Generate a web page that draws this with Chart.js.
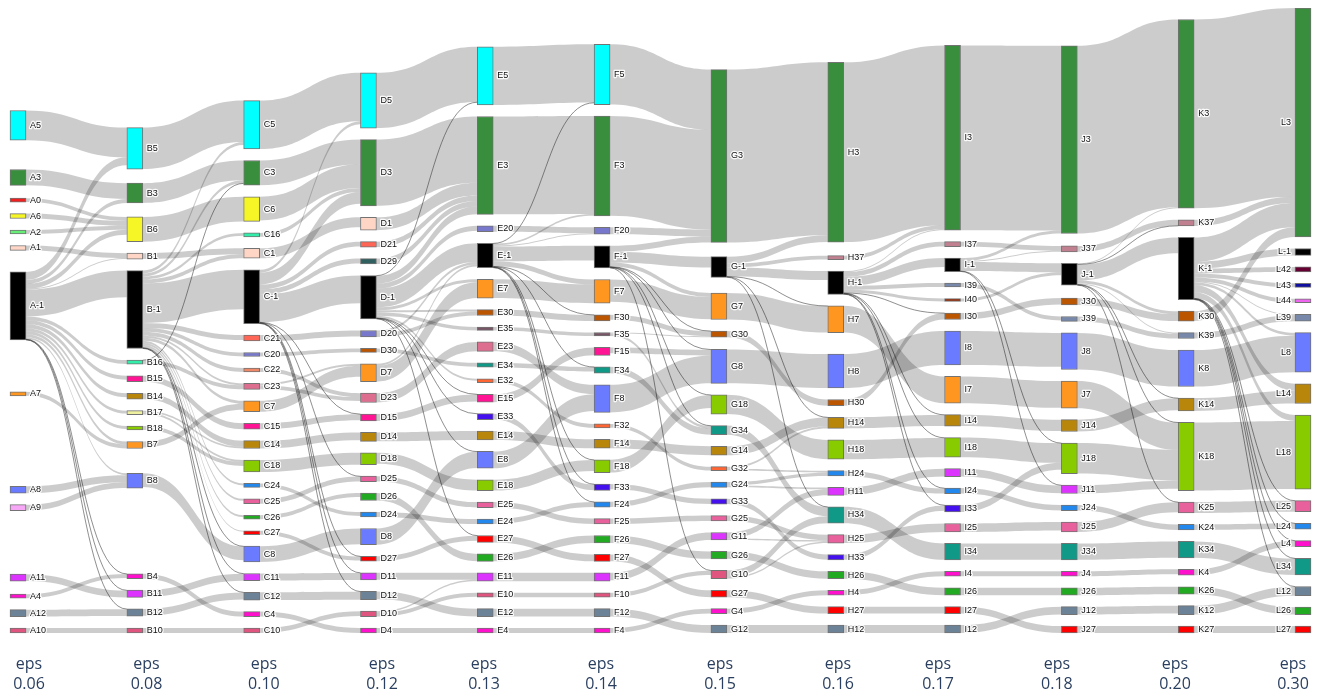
<!DOCTYPE html>
<html lang="en">
<head>
<meta charset="UTF-8">
<title>Cluster flow across eps</title>
<script src="https://cdn.jsdelivr.net/npm/chart.js"></script>
<style>
  html, body { margin: 0; padding: 0; background: #fff; overflow: hidden; }
  #wrap { position: relative; width: 1323px; height: 695px; }
</style>
</head>
<body>
<div id="wrap"><canvas id="sankeyChart"></canvas></div>
<script>
// ---- data ----
const epsValues = ['0.06', '0.08', '0.10', '0.12', '0.13', '0.14', '0.15', '0.16', '0.17', '0.18', '0.20', '0.30'];

const nodesA = ['A5', 'A3', 'A0', 'A6', 'A2', 'A1', 'A-1', 'A7', 'A8', 'A9', 'A11', 'A4', 'A12', 'A10'];
const nodesB = ['B5', 'B3', 'B6', 'B1', 'B-1', 'B16', 'B15', 'B14', 'B17', 'B18', 'B7', 'B8', 'B4', 'B11', 'B12', 'B10'];
const nodesC = ['C5', 'C3', 'C6', 'C16', 'C1', 'C-1', 'C21', 'C20', 'C22', 'C23', 'C7', 'C15', 'C14', 'C18', 'C24', 'C25', 'C26', 'C27', 'C8', 'C11', 'C12', 'C4', 'C10'];
const nodesD = ['D5', 'D3', 'D1', 'D21', 'D29', 'D-1', 'D20', 'D30', 'D7', 'D23', 'D15', 'D14', 'D18', 'D25', 'D26', 'D24', 'D8', 'D27', 'D11', 'D12', 'D10', 'D4'];
const nodesE = ['E5', 'E3', 'E20', 'E-1', 'E7', 'E30', 'E35', 'E23', 'E34', 'E32', 'E15', 'E33', 'E14', 'E8', 'E18', 'E25', 'E24', 'E27', 'E26', 'E11', 'E10', 'E12', 'E4'];
const nodesF = ['F5', 'F3', 'F20', 'F-1', 'F7', 'F30', 'F35', 'F15', 'F34', 'F8', 'F32', 'F14', 'F18', 'F33', 'F24', 'F25', 'F26', 'F27', 'F11', 'F10', 'F12', 'F4'];
const nodesG = ['G3', 'G-1', 'G7', 'G30', 'G8', 'G18', 'G34', 'G14', 'G32', 'G24', 'G33', 'G25', 'G11', 'G26', 'G10', 'G27', 'G4', 'G12'];
const nodesH = ['H3', 'H37', 'H-1', 'H7', 'H8', 'H30', 'H14', 'H18', 'H24', 'H11', 'H34', 'H25', 'H33', 'H26', 'H4', 'H27', 'H12'];
const nodesI = ['I3', 'I37', 'I-1', 'I39', 'I40', 'I30', 'I8', 'I7', 'I14', 'I18', 'I11', 'I24', 'I33', 'I25', 'I34', 'I4', 'I26', 'I27', 'I12'];
const nodesJ = ['J3', 'J37', 'J-1', 'J30', 'J39', 'J8', 'J7', 'J14', 'J18', 'J11', 'J24', 'J25', 'J34', 'J4', 'J26', 'J12', 'J27'];
const nodesK = ['K3', 'K37', 'K-1', 'K30', 'K39', 'K8', 'K14', 'K18', 'K25', 'K24', 'K34', 'K4', 'K26', 'K12', 'K27'];
const nodesL = ['L3', 'L-1', 'L42', 'L43', 'L44', 'L39', 'L8', 'L14', 'L18', 'L25', 'L24', 'L4', 'L34', 'L12', 'L26', 'L27'];

// [source, target, value]
const linksAB = [
  ['A5', 'B5', 30], ['A3', 'B3', 16], ['A0', 'B6', 4], ['A6', 'B6', 5], ['A2', 'B6', 4], ['A1', 'B1', 5],
  ['A-1', 'B5', 8], ['A-1', 'B3', 4], ['A-1', 'B6', 5], ['A-1', 'B1', 1], ['A-1', 'B-1', 27], ['A-1', 'B16', 4],
  ['A-1', 'B15', 4], ['A-1', 'B14', 4], ['A-1', 'B17', 3], ['A-1', 'B18', 3], ['A-1', 'B7', 3], ['A-1', 'B8', 2],
  ['A-1', 'B4', 0.3], ['A-1', 'B11', 0.3], ['A-1', 'B12', 0.3],
  ['A7', 'B7', 4], ['A8', 'B8', 7], ['A9', 'B8', 6], ['A11', 'B11', 7], ['A4', 'B4', 4], ['A12', 'B12', 7], ['A10', 'B10', 5]
];
const linksBC = [
  ['B5', 'C5', 42], ['B3', 'C3', 20], ['B6', 'C6', 25], ['B1', 'C1', 6],
  ['B-1', 'C5', 3], ['B-1', 'C3', 3], ['B-1', 'C16', 3], ['B-1', 'C1', 4], ['B-1', 'C-1', 40], ['B-1', 'C21', 5],
  ['B-1', 'C20', 4], ['B-1', 'C22', 4], ['B-1', 'C23', 2], ['B-1', 'C7', 3], ['B-1', 'C24', 2], ['B-1', 'C25', 2],
  ['B-1', 'C26', 2], ['B-1', 'C27', 1], ['B-1', 'C8', 0.3], ['B-1', 'C11', 0.3], ['B-1', 'C12', 0.3],
  ['B16', 'C23', 4], ['B16', 'C3', 0.3], ['B15', 'C15', 6], ['B14', 'C14', 6], ['B17', 'C14', 2], ['B17', 'C18', 2],
  ['B18', 'C18', 4], ['B7', 'C7', 6], ['B8', 'C8', 14], ['B4', 'C4', 5], ['B11', 'C11', 7], ['B12', 'C12', 7], ['B10', 'C10', 5]
];
const linksCD = [
  ['C5', 'D5', 49], ['C3', 'D3', 25], ['C6', 'D3', 24], ['C16', 'D3', 4], ['C1', 'D1', 10],
  ['C-1', 'D5', 3], ['C-1', 'D3', 12], ['C-1', 'D21', 5], ['C-1', 'D29', 5], ['C-1', 'D-1', 28],
  ['C-1', 'D15', 0.3], ['C-1', 'D25', 0.3], ['C-1', 'D27', 0.3], ['C-1', 'D11', 0.3], ['C-1', 'D12', 0.3],
  ['C21', 'D20', 6], ['C20', 'D30', 4], ['C22', 'D23', 4], ['C23', 'D23', 4], ['C23', 'D7', 2], ['C7', 'D7', 11],
  ['C15', 'D15', 6], ['C14', 'D14', 8], ['C18', 'D18', 12], ['C24', 'D24', 4], ['C25', 'D25', 5], ['C26', 'D26', 4],
  ['C27', 'D27', 4], ['C8', 'D8', 16], ['C11', 'D11', 7], ['C12', 'D12', 8], ['C4', 'D4', 5], ['C10', 'D10', 5]
];
const linksDE = [
  ['D5', 'E5', 56], ['D3', 'E3', 67], ['D1', 'E3', 13], ['D21', 'E3', 5.5], ['D29', 'E3', 5.5],
  ['D-1', 'E3', 8], ['D-1', 'E5', 0.3], ['D-1', 'E20', 5], ['D-1', 'E-1', 19], ['D-1', 'E7', 3], ['D-1', 'E30', 2],
  ['D-1', 'E35', 3.5], ['D-1', 'E32', 2], ['D-1', 'E33', 0.3], ['D-1', 'E15', 0.3], ['D-1', 'E8', 0.3], ['D-1', 'E27', 0.3],
  ['D20', 'E30', 4], ['D20', 'E-1', 2.5], ['D30', 'E34', 4], ['D7', 'E7', 16], ['D7', 'E-1', 2], ['D23', 'E23', 9.5],
  ['D15', 'E15', 7], ['D14', 'E14', 9], ['D18', 'E18', 11], ['D25', 'E25', 5.5], ['D26', 'E26', 7.5], ['D24', 'E24', 5],
  ['D8', 'E8', 16.5], ['D27', 'E27', 5], ['D11', 'E11', 7], ['D12', 'E12', 8], ['D10', 'E10', 4], ['D10', 'E11', 1.5], ['D4', 'E4', 5]
];
const linksEF = [
  ['E5', 'F5', 59], ['E3', 'F3', 99], ['E20', 'F20', 6],
  ['E-1', 'F-1', 15], ['E-1', 'F7', 5], ['E-1', 'F3', 2], ['E-1', 'F20', 1], ['E-1', 'F5', 0.3], ['E-1', 'F30', 0.3],
  ['E-1', 'F34', 0.3], ['E-1', 'F18', 0.3], ['E-1', 'F33', 0.3], ['E-1', 'F24', 0.3],
  ['E7', 'F7', 19], ['E30', 'F30', 6], ['E35', 'F35', 3.5], ['E23', 'F8', 9.5], ['E34', 'F34', 4.5], ['E32', 'F32', 4],
  ['E15', 'F15', 8], ['E33', 'F33', 6], ['E14', 'F14', 9], ['E8', 'F8', 17], ['E18', 'F18', 11], ['E25', 'F25', 5.5],
  ['E24', 'F24', 5], ['E27', 'F27', 7], ['E26', 'F26', 7.5], ['E11', 'F11', 8.5], ['E10', 'F10', 4.5], ['E12', 'F12', 8], ['E4', 'F4', 5]
];
const linksFG = [
  ['F5', 'G3', 61], ['F3', 'G3', 101], ['F20', 'G3', 7],
  ['F-1', 'G3', 6], ['F-1', 'G-1', 11], ['F-1', 'G7', 4], ['F-1', 'G30', 0.3], ['F-1', 'G8', 0.3], ['F-1', 'G18', 0.3],
  ['F-1', 'G34', 0.3], ['F-1', 'G10', 0.3],
  ['F7', 'G7', 22.5], ['F30', 'G30', 5], ['F35', 'G30', 1], ['F35', 'G34', 2.5], ['F15', 'G8', 6], ['F34', 'G34', 6.5],
  ['F8', 'G8', 28], ['F32', 'G32', 4], ['F14', 'G14', 9], ['F18', 'G18', 13], ['F33', 'G33', 5.3], ['F24', 'G24', 5.3],
  ['F25', 'G25', 5.5], ['F26', 'G26', 7.5], ['F27', 'G27', 7], ['F11', 'G11', 7.5], ['F10', 'G10', 4.5], ['F12', 'G12', 8], ['F4', 'G4', 5]
];
const linksGH = [
  ['G3', 'H3', 175], ['G-1', 'H3', 7], ['G-1', 'H37', 4], ['G-1', 'H-1', 9], ['G-1', 'H7', 0.3], ['G-1', 'H14', 0.3], ['G-1', 'H34', 0.3],
  ['G7', 'H7', 26.8], ['G30', 'H30', 6.3], ['G8', 'H8', 34.3], ['G18', 'H18', 19.5], ['G34', 'H34', 9.3], ['G14', 'H14', 9],
  ['G32', 'H14', 2], ['G32', 'H24', 2], ['G24', 'H24', 3.3], ['G24', 'H11', 2], ['G33', 'H33', 5.3], ['G25', 'H25', 5.5],
  ['G11', 'H11', 6], ['G11', 'H25', 1.5], ['G26', 'H26', 7.5], ['G10', 'H34', 7], ['G10', 'H25', 1.5], ['G27', 'H27', 7],
  ['G4', 'H4', 5], ['G12', 'H12', 8]
];
const linksHI = [
  ['H3', 'I3', 182], ['H37', 'I3', 4], ['H-1', 'I3', 1], ['H-1', 'I37', 5], ['H-1', 'I-1', 9], ['H-1', 'I39', 4], ['H-1', 'I40', 3],
  ['H-1', 'I30', 0.3], ['H-1', 'I14', 0.3], ['H-1', 'I18', 0.3], ['H-1', 'I24', 0.3], ['H-1', 'I33', 0.3],
  ['H7', 'I7', 27.1], ['H8', 'I8', 34.3], ['H30', 'I30', 6.3], ['H14', 'I14', 11.3], ['H18', 'I18', 19.5], ['H24', 'I24', 5.3],
  ['H11', 'I11', 8], ['H34', 'I34', 16.6], ['H25', 'I25', 8.5], ['H33', 'I33', 5.3], ['H26', 'I26', 7.5], ['H4', 'I4', 5],
  ['H27', 'I27', 7], ['H12', 'I12', 8]
];
const linksIJ = [
  ['I3', 'J3', 187], ['I37', 'J37', 5], ['I-1', 'J3', 3], ['I-1', 'J37', 1], ['I-1', 'J-1', 9], ['I-1', 'J18', 0.3], ['I-1', 'J11', 0.3],
  ['I39', 'J39', 4], ['I40', 'J-1', 3], ['I30', 'J30', 6.6], ['I8', 'J8', 34.3], ['I7', 'J7', 27.1], ['I14', 'J14', 11.6],
  ['I18', 'J18', 19.8], ['I11', 'J11', 8], ['I24', 'J24', 5.6], ['I33', 'J18', 7], ['I25', 'J25', 8.5], ['I34', 'J34', 16.6],
  ['I4', 'J4', 5], ['I26', 'J26', 7.5], ['I27', 'J27', 7], ['I12', 'J12', 8]
];
const linksJK = [
  ['J3', 'K3', 190], ['J37', 'K37', 6], ['J-1', 'K3', 1], ['J-1', 'K-1', 16], ['J-1', 'K30', 3], ['J-1', 'K39', 1],
  ['J-1', 'K37', 0.3], ['J-1', 'K14', 0.3], ['J-1', 'K18', 0.3], ['J-1', 'K25', 0.3],
  ['J30', 'K30', 7], ['J39', 'K39', 5], ['J8', 'K8', 37], ['J7', 'K18', 27.5], ['J14', 'K14', 12], ['J18', 'K18', 31],
  ['J11', 'K18', 8.5], ['J24', 'K24', 5.6], ['J25', 'K25', 10], ['J34', 'K34', 16.6], ['J4', 'K4', 5], ['J26', 'K26', 7.5],
  ['J12', 'K12', 8], ['J27', 'K27', 7]
];
const linksKL = [
  ['K3', 'L3', 191], ['K37', 'L3', 6.3], ['K-1', 'L3', 24.5], ['K-1', 'L-1', 7], ['K-1', 'L42', 5], ['K-1', 'L43', 4],
  ['K-1', 'L44', 4], ['K-1', 'L39', 1], ['K-1', 'L8', 3], ['K-1', 'L14', 7], ['K-1', 'L18', 6],
  ['K-1', 'L25', 0.3], ['K-1', 'L24', 0.3], ['K-1', 'L4', 0.3], ['K-1', 'L34', 0.3], ['K-1', 'L12', 0.3],
  ['K30', 'L3', 10], ['K39', 'L39', 6], ['K8', 'L8', 37], ['K14', 'L14', 13], ['K18', 'L18', 69], ['K25', 'L25', 11],
  ['K24', 'L24', 5.6], ['K34', 'L34', 16.6], ['K4', 'L4', 6], ['K26', 'L26', 7.5], ['K12', 'L12', 9], ['K27', 'L27', 7]
];

// ---- style / layout constants ----
const clusterColors = {
  '-1': '#000000', '0': '#f02020', '1': '#ffd6c6', '2': '#66ee77', '3': '#388e3c', '4': '#ff10cc', '5': '#00ffff',
  '6': '#f6f626', '7': '#ff9620', '8': '#6b7bff', '9': '#f6a8f6', '10': '#e05580', '11': '#dd33ff', '12': '#6c8296',
  '14': '#b8860b', '15': '#ff1493', '16': '#33eeaa', '17': '#eef0a0', '18': '#88cc00', '20': '#7777cc', '21': '#ff6655',
  '22': '#ee8866', '23': '#dd6e90', '24': '#2288ee', '25': '#e8609c', '26': '#22aa22', '27': '#ff0000', '29': '#2f5f5f',
  '30': '#bb5500', '32': '#ff6633', '33': '#4411ee', '34': '#119988', '35': '#775566', '37': '#c08090', '39': '#7788aa',
  '40': '#8b2500', '42': '#660033', '43': '#1010a0', '44': '#ee66ee'
};
const epsLabelPos = [0.0219, 0.1107, 0.1995, 0.2887, 0.3658, 0.4543, 0.5442, 0.6334, 0.7090, 0.7989, 0.8881, 0.9773];
const LAYOUT_H = 625, NODE_PAD = 11.5, NODE_W = 16, ITERATIONS = 50, THIN = 0.5;
const X_MIN = -0.1541, X_MAX = 11.1711;
const Y_MAX = LAYOUT_H + 18;   // room between the last node row and the eps labels

const columns = [nodesA, nodesB, nodesC, nodesD, nodesE, nodesF, nodesG, nodesH, nodesI, nodesJ, nodesK, nodesL];
const transitions = [linksAB, linksBC, linksCD, linksDE, linksEF, linksFG, linksGH, linksHI, linksIJ, linksJK, linksKL];

// ---- sankey layout (d3-sankey style relaxation, column order kept) ----
function computeLayout() {
  const byName = {};
  const cols = columns.map((names, c) => names.map(name => {
    const n = { name, col: c, ins: [], outs: [], value: 0, y0: 0, y1: 0 };
    byName[name] = n;
    return n;
  }));
  const links = [];
  transitions.forEach(list => list.forEach(([s, t, v]) => {
    const l = { source: byName[s], target: byName[t], value: v };
    l.source.outs.push(l);
    l.target.ins.push(l);
    links.push(l);
  }));
  const total = arr => arr.reduce((s, l) => s + l.value, 0);
  cols.forEach(c => c.forEach(n => { n.value = Math.max(total(n.ins), total(n.outs)); }));

  const ky = Math.min(...cols.map(c =>
    (LAYOUT_H - (c.length - 1) * NODE_PAD) / c.reduce((s, n) => s + n.value, 0)));
  cols.forEach(c => c.forEach((n, i) => { n.y0 = i; n.y1 = i + n.value * ky; }));
  links.forEach(l => { l.width = l.value * ky; });

  const center = n => (n.y0 + n.y1) / 2;
  function resolve() {
    cols.forEach(nodes => {
      let y = 0;
      nodes.forEach(n => {
        const dy = y - n.y0;
        if (dy > 0) { n.y0 += dy; n.y1 += dy; }
        y = n.y1 + NODE_PAD;
      });
      let dy = y - NODE_PAD - LAYOUT_H;
      if (dy > 0) {
        const last = nodes[nodes.length - 1];
        last.y0 -= dy; last.y1 -= dy;
        y = last.y0;
        for (let i = nodes.length - 2; i >= 0; i--) {
          const n = nodes[i];
          dy = n.y1 + NODE_PAD - y;
          if (dy > 0) { n.y0 -= dy; n.y1 -= dy; }
          y = n.y0;
        }
      }
    });
  }
  function relax(list, key, other, alpha) {
    list.forEach(nodes => nodes.forEach(n => {
      const ls = n[key];
      if (!ls.length) return;
      const w = total(ls);
      const target = ls.reduce((s, l) => s + center(l[other]) * l.value, 0) / w;
      const dy = (target - center(n)) * alpha;
      n.y0 += dy; n.y1 += dy;
    }));
  }

  resolve();
  let alpha = 1;
  for (let k = 0; k < ITERATIONS; k++) {
    alpha *= 0.99;
    relax(cols.slice().reverse(), 'outs', 'target', alpha);
    resolve();
    relax(cols, 'ins', 'source', alpha);
    resolve();
  }

  cols.forEach(c => c.forEach(n => {
    n.outs.sort((a, b) => a.target.y0 - b.target.y0);
    n.ins.sort((a, b) => a.source.y0 - b.source.y0);
    let y = n.y0;
    n.outs.forEach(l => { l.sy = y; y += l.width; });
    y = n.y0;
    n.ins.forEach(l => { l.ty = y; y += l.width; });
  }));
  return { nodes: cols.flat(), links };
}

const layout = computeLayout();
const clusterOf = name => name.slice(1);

// ---- plugin: links behind the node bars, labels on top ----
const sankeyPlugin = {
  id: 'sankeyLinks',
  beforeDatasetsDraw(chart) {
    const { ctx, scales: { x, y } } = chart;
    const half = NODE_W / 2;
    ctx.save();
    layout.links.forEach(l => {
      const xs = x.getPixelForValue(l.source.col) + half;
      const xt = x.getPixelForValue(l.target.col) - half;
      const xm = (xs + xt) / 2;
      const s0 = y.getPixelForValue(l.sy), s1 = y.getPixelForValue(l.sy + l.width);
      const t0 = y.getPixelForValue(l.ty), t1 = y.getPixelForValue(l.ty + l.width);
      ctx.beginPath();
      if (l.value < THIN) {
        const sc = (s0 + s1) / 2, tc = (t0 + t1) / 2;
        ctx.moveTo(xs, sc);
        ctx.bezierCurveTo(xm, sc, xm, tc, xt, tc);
        ctx.strokeStyle = 'rgba(40,40,40,0.75)';
        ctx.lineWidth = 0.7;
        ctx.stroke();
      } else {
        ctx.moveTo(xs, s0);
        ctx.bezierCurveTo(xm, s0, xm, t0, xt, t0);
        ctx.lineTo(xt, t1);
        ctx.bezierCurveTo(xm, t1, xm, s1, xs, s1);
        ctx.closePath();
        ctx.fillStyle = 'rgba(0,0,0,0.2)';
        ctx.fill();
      }
    });
    ctx.restore();
  },
  afterDatasetsDraw(chart) {
    const { ctx, scales: { x, y } } = chart;
    const last = columns.length - 1;
    ctx.save();
    ctx.font = '9px "Liberation Sans", Arial, sans-serif';
    ctx.textBaseline = 'middle';
    ctx.lineJoin = 'round';
    layout.nodes.forEach(n => {
      const px = x.getPixelForValue(n.col);
      const py = y.getPixelForValue((n.y0 + n.y1) / 2);
      const right = n.col === last;
      const tx = right ? px - NODE_W / 2 - 4 : px + NODE_W / 2 + 4;
      ctx.textAlign = right ? 'right' : 'left';
      ctx.strokeStyle = 'rgba(255,255,255,0.9)';
      ctx.lineWidth = 2.5;
      ctx.strokeText(n.name, tx, py);
      ctx.fillStyle = '#111';
      ctx.fillText(n.name, tx, py);
    });
    ctx.restore();
  }
};

new Chart(document.getElementById('sankeyChart'), {
  type: 'bar',
  data: {
    datasets: [{
      data: layout.nodes.map(n => ({ x: n.col, y: [n.y0, n.y1] })),
      backgroundColor: layout.nodes.map(n => clusterColors[clusterOf(n.name)] || '#999'),
      borderColor: 'rgba(68,68,68,0.75)',
      borderWidth: 1,
      borderSkipped: false,
      barThickness: NODE_W
    }]
  },
  options: {
    responsive: true,
    maintainAspectRatio: false,
    animation: false,
    layout: { padding: { top: 8, left: 0, right: 0, bottom: 0 } },
    plugins: { legend: { display: false }, tooltip: { enabled: false } },
    scales: {
      x: { type: 'linear', min: X_MIN, max: X_MAX, offset: false, display: false },
      y: { type: 'linear', min: 0, max: Y_MAX, reverse: true, display: false },
      x2: {
        type: 'linear', position: 'bottom', min: 0, max: 1, offset: false,
        grid: { display: false, drawTicks: false },
        border: { display: false },
        afterBuildTicks: axis => { axis.ticks = epsLabelPos.map(v => ({ value: v })); },
        afterFit: axis => { axis.height = 44; },
        ticks: {
          autoSkip: false, maxRotation: 0, padding: 3,
          color: '#2a3f5f',
          font: { family: '"Open Sans", Arial, sans-serif', size: 16, lineHeight: 1.28 },
          callback: (value, index) => ['eps', epsValues[index]]
        }
      }
    }
  },
  plugins: [sankeyPlugin]
});
</script>
</body>
</html>
